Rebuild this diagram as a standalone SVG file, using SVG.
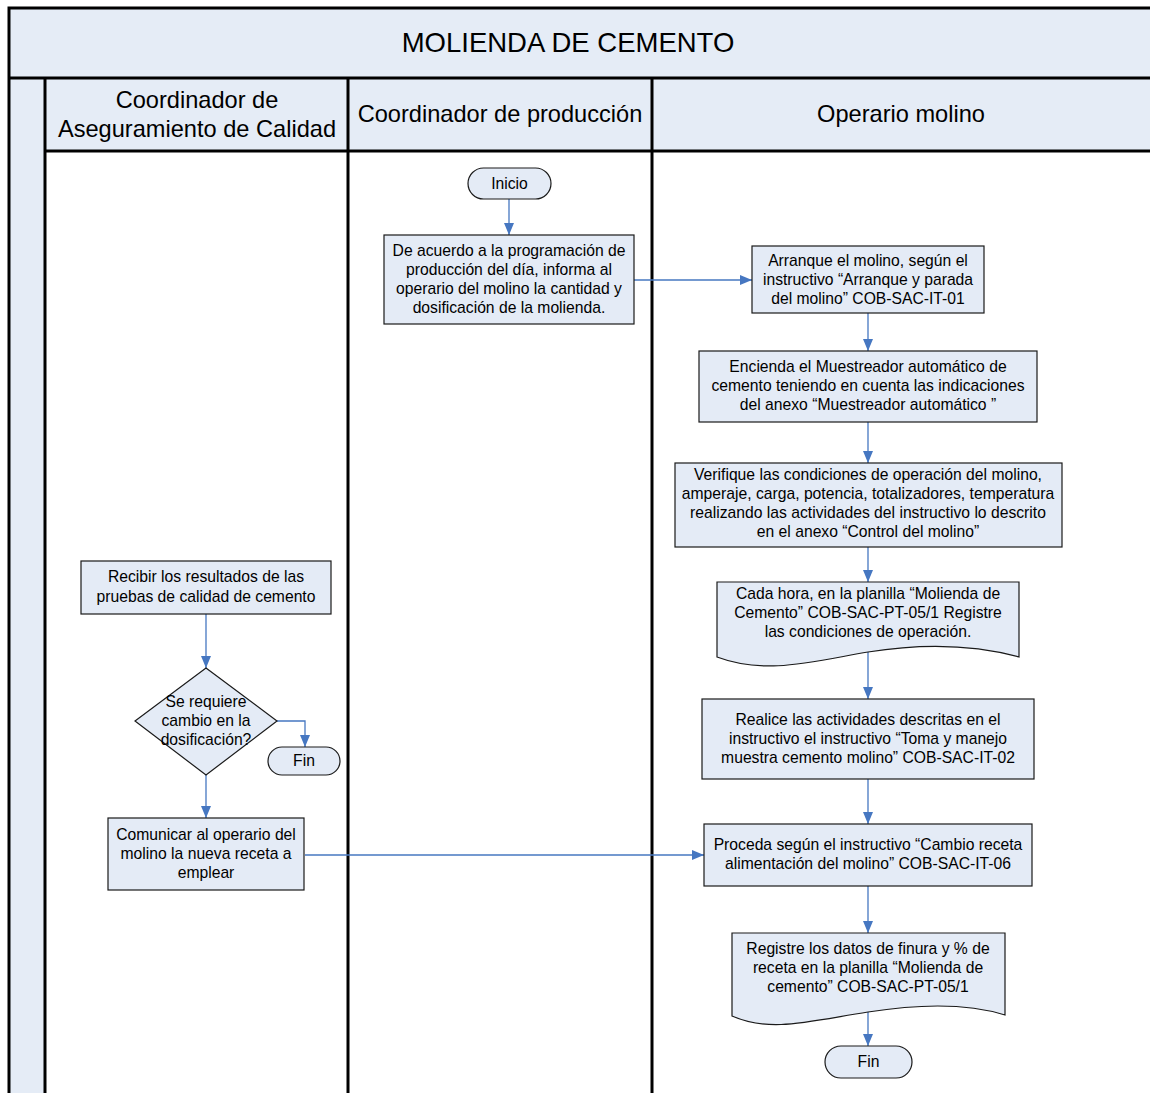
<svg xmlns="http://www.w3.org/2000/svg" width="1150" height="1093" viewBox="0 0 1150 1093">
<style>
.band{fill:#e5ecf6;stroke:none}
.frame{stroke:#000;stroke-width:3;fill:none}
.node{fill:#e4ebf6;stroke:#1a1a1a;stroke-width:1.2}
.t{font-family:"Liberation Sans",Arial,sans-serif;font-size:15.7px;fill:#000;text-anchor:middle}
.h{font-family:"Liberation Sans",Arial,sans-serif;font-size:23.6px;fill:#000;text-anchor:middle}
.title{font-family:"Liberation Sans",Arial,sans-serif;font-size:27.5px;fill:#000;text-anchor:middle}
.c{stroke:#4677c1;stroke-width:1.3;fill:none;marker-end:url(#ah)}
</style>
<defs>
<marker id="ah" viewBox="0 0 12 10" refX="12" refY="5" markerWidth="12" markerHeight="10" markerUnits="userSpaceOnUse" orient="auto">
<path d="M0,0 L12,5 L0,10 z" fill="#4677c1"/>
</marker>
</defs>
<rect width="1150" height="1093" fill="#fff"/>
<g id="pool">
<rect class="band" x="9" y="8" width="1141" height="70"/>
<rect class="band" x="9" y="78" width="36" height="1015"/>
<rect class="band" x="45" y="78" width="1105" height="73"/>
<path class="frame" d="M9,1093 V8 H1150 M9,78 H1150 M45,151 H1150 M45,78 V1093 M348,78 V1093 M652,78 V1093"/>
<text class="title" x="568" y="52">MOLIENDA DE CEMENTO</text>
<text class="h" x="197" y="108">Coordinador de</text>
<text class="h" x="197" y="137">Aseguramiento de Calidad</text>
<text class="h" x="500" y="122">Coordinador de producción</text>
<text class="h" x="901" y="122">Operario molino</text>
</g>
<g id="connectors">
<path class="c" d="M509,199 V235"/>
<path class="c" d="M634,280 H752"/>
<path class="c" d="M868,313 V351"/>
<path class="c" d="M868,422 V463"/>
<path class="c" d="M868,547 V582"/>
<path class="c" d="M868,652 V699"/>
<path class="c" d="M868,779 V824"/>
<path class="c" d="M868,886 V933"/>
<path class="c" d="M868,1012 V1046"/>
<path class="c" d="M206,614 V668"/>
<path class="c" d="M277,721 H305 V747"/>
<path class="c" d="M206,775 V818"/>
<path class="c" d="M305,855 H704"/>
</g>
<g id="inicio">
<rect class="node" x="468" y="168" width="83" height="31" rx="15.5"/>
<text class="t" x="509.5" y="189">Inicio</text>
</g>
<g id="informa">
<rect class="node" x="384" y="235" width="250" height="89"/>
<text class="t" x="509" y="256">De acuerdo a la programación de</text>
<text class="t" x="509" y="275">producción del día, informa al</text>
<text class="t" x="509" y="294">operario del molino la cantidad y</text>
<text class="t" x="509" y="313">dosificación de la molienda.</text>
</g>
<g id="arranque">
<rect class="node" x="752" y="246" width="232" height="67"/>
<text class="t" x="868" y="266">Arranque el molino, según el</text>
<text class="t" x="868" y="285">instructivo “Arranque y parada</text>
<text class="t" x="868" y="304">del molino” COB-SAC-IT-01</text>
</g>
<g id="muestreador">
<rect class="node" x="699" y="351" width="338" height="71"/>
<text class="t" x="868" y="372">Encienda el Muestreador automático de</text>
<text class="t" x="868" y="391">cemento teniendo en cuenta las indicaciones</text>
<text class="t" x="868" y="410">del anexo “Muestreador automático ”</text>
</g>
<g id="verifique">
<rect class="node" x="675" y="463" width="387" height="84"/>
<text class="t" x="868" y="480">Verifique las condiciones de operación del molino,</text>
<text class="t" x="868" y="499">amperaje, carga, potencia, totalizadores, temperatura</text>
<text class="t" x="868" y="518">realizando las actividades del instructivo lo descrito</text>
<text class="t" x="868" y="537">en el anexo “Control del molino”</text>
</g>
<g id="registro1">
<path class="node" d="M717,582 H1019 V657 C975,645 925,643 868,652 C810,662 765,675 717,657 Z"/>
<text class="t" x="868" y="599">Cada hora, en la planilla “Molienda de</text>
<text class="t" x="868" y="618">Cemento” COB-SAC-PT-05/1 Registre</text>
<text class="t" x="868" y="637">las condiciones de operación.</text>
</g>
<g id="toma">
<rect class="node" x="702" y="699" width="332" height="80"/>
<text class="t" x="868" y="725">Realice las actividades descritas en el</text>
<text class="t" x="868" y="744">instructivo el instructivo “Toma y manejo</text>
<text class="t" x="868" y="763">muestra cemento molino” COB-SAC-IT-02</text>
</g>
<g id="cambio">
<rect class="node" x="704" y="824" width="328" height="62"/>
<text class="t" x="868" y="850">Proceda según el instructivo “Cambio receta</text>
<text class="t" x="868" y="869">alimentación del molino” COB-SAC-IT-06</text>
</g>
<g id="registro2">
<path class="node" d="M732,933 H1005 V1015 C970,1004 925,1003 868,1012 C810,1021 770,1033 732,1016 Z"/>
<text class="t" x="868" y="954">Registre los datos de finura y % de</text>
<text class="t" x="868" y="973">receta en la planilla “Molienda de</text>
<text class="t" x="868" y="992">cemento” COB-SAC-PT-05/1</text>
</g>
<g id="fin2">
<rect class="node" x="825" y="1046" width="87" height="32" rx="16"/>
<text class="t" x="868.5" y="1067">Fin</text>
</g>
<g id="recibir">
<rect class="node" x="81" y="561" width="250" height="53"/>
<text class="t" x="206" y="582">Recibir los resultados de las</text>
<text class="t" x="206" y="602">pruebas de calidad de cemento</text>
</g>
<g id="decision">
<path class="node" d="M206,668 L277,721 L206,775 L135,721 Z"/>
<text class="t" x="206" y="707">Se requiere</text>
<text class="t" x="206" y="726">cambio en la</text>
<text class="t" x="206" y="745">dosificación?</text>
</g>
<g id="fin1">
<rect class="node" x="268" y="747" width="72" height="28" rx="14"/>
<text class="t" x="304" y="766">Fin</text>
</g>
<g id="comunicar">
<rect class="node" x="108" y="818" width="196" height="72"/>
<text class="t" x="206" y="840">Comunicar al operario del</text>
<text class="t" x="206" y="859">molino la nueva receta a</text>
<text class="t" x="206" y="878">emplear</text>
</g>
</svg>
